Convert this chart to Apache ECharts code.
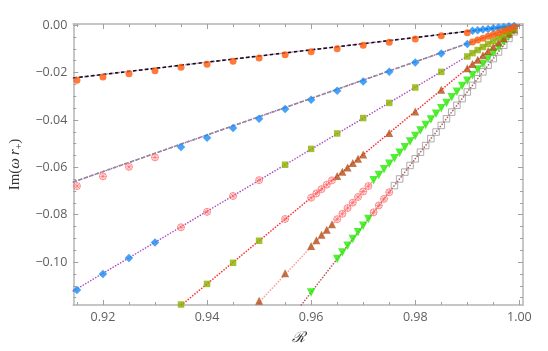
<!DOCTYPE html>
<html>
<head>
<meta charset="utf-8">
<script src="https://cdn.jsdelivr.net/npm/echarts@6/dist/echarts.min.js"></script>
<style>
  html, body { margin: 0; padding: 0; background: #fff; }
  #chart { width: 548px; height: 351px; }
</style>
</head>
<body>
<div id="chart"></div>
<script>
// axis ticks
const xMajor = [0.92, 0.94, 0.96, 0.98, 1.0]
const xMinor = [0.915, 0.925, 0.93, 0.935, 0.945, 0.95, 0.955, 0.965, 0.97, 0.975, 0.985, 0.99, 0.995]
const yMajor = [0, -0.02, -0.04, -0.06, -0.08, -0.1]
const yMinor = [-0.005, -0.01, -0.015, -0.025, -0.03, -0.035, -0.045, -0.05, -0.055,
  -0.065, -0.07, -0.075, -0.085, -0.09, -0.095, -0.105, -0.11, -0.115]

// analytic curves (end points)
const line1R = [0.9143, 1.0], line1Im = [-0.0223, 0]
const line2R = [0.9143, 1.0], line2Im = [-0.0662, 0]
const line3R = [0.9143, 1.0], line3Im = [-0.1122, 0]
const line4R = [0.9351, 1.0], line4Im = [-0.1181, 0]
const line5R = [0.9495, 1.0], line5Im = [-0.1181, 0]
const line6R = [0.9581, 1.0], line6Im = [-0.1181, 0]

// numerical modes
const orangeR = [0.915, 0.92, 0.925, 0.93, 0.935, 0.94, 0.945, 0.95, 0.955, 0.96, 0.965, 0.97, 0.975, 0.98, 0.985, 0.99,
  0.991, 0.992, 0.993, 0.994, 0.995, 0.996, 0.997, 0.998, 0.999]
const orangeIm = [-0.0232, -0.0219, -0.0205, -0.0192, -0.0178, -0.0165, -0.0152, -0.0139, -0.0125, -0.0112, -0.0099, -0.0085, -0.0072, -0.0058, -0.0045, -0.0032,
  -0.0071, -0.0063, -0.0055, -0.0047, -0.0039, -0.0032, -0.0024, -0.0016, -0.0008]

const blueR = [0.915, 0.92, 0.925, 0.93, 0.935, 0.94, 0.945, 0.95, 0.955, 0.96, 0.965, 0.97, 0.975, 0.98, 0.985, 0.99,
  0.991, 0.992, 0.993, 0.994, 0.995, 0.996, 0.997, 0.998, 0.999]
const blueIm = [-0.1118, -0.1050, -0.0983, -0.0917, -0.0514, -0.0475, -0.0434, -0.0395, -0.0354, -0.0315, -0.0277, -0.0238, -0.0197, -0.0158, -0.0120, -0.0079,
  -0.0024, -0.0021, -0.0018, -0.0016, -0.0013, -0.0010, -0.0008, -0.0005, -0.0003]

const redR = [0.915, 0.92, 0.925, 0.93, 0.935, 0.94, 0.945, 0.95, 0.955, 0.96, 0.961, 0.962, 0.963, 0.964,
  0.965, 0.966, 0.967, 0.968, 0.969, 0.97, 0.971, 0.972, 0.973, 0.974, 0.975]
const redIm = [-0.0679, -0.0638, -0.0598, -0.0558, -0.0853, -0.0788, -0.0721, -0.0654, -0.0818, -0.0728, -0.0710, -0.0692, -0.0673, -0.0655,
  -0.0819, -0.0796, -0.0772, -0.0749, -0.0725, -0.0702, -0.0679, -0.0790, -0.0761, -0.0733, -0.0705]

const oliveR = [0.935, 0.94, 0.945, 0.95, 0.955, 0.96, 0.965, 0.97, 0.975, 0.98, 0.985, 0.99,
  0.991, 0.992, 0.993, 0.994, 0.995, 0.996, 0.997, 0.998, 0.999]
const oliveIm = [-0.1179, -0.1092, -0.1003, -0.0910, -0.0589, -0.0522, -0.0457, -0.0392, -0.0328, -0.0263, -0.0197, -0.0132,
  -0.0118, -0.0105, -0.0092, -0.0079, -0.0066, -0.0052, -0.0039, -0.0026, -0.0013]

const brownR = [0.95, 0.955, 0.96, 0.961, 0.962, 0.963, 0.964, 0.965, 0.966, 0.967, 0.968, 0.969, 0.97, 0.975, 0.98, 0.985, 0.99,
  0.991, 0.992, 0.993, 0.994, 0.995, 0.996, 0.997, 0.998, 0.999]
const brownIm = [-0.1163, -0.1047, -0.0932, -0.0908, -0.0885, -0.0863, -0.0840, -0.0637, -0.0619, -0.0601, -0.0582, -0.0564, -0.0546, -0.0455, -0.0364, -0.0273, -0.0182,
  -0.0164, -0.0146, -0.0127, -0.0109, -0.0091, -0.0073, -0.0055, -0.0036, -0.0018]

const greenR = [0.96, 0.965, 0.966, 0.967, 0.968, 0.969, 0.97, 0.971,
  0.972, 0.973, 0.974, 0.975, 0.976, 0.977, 0.978, 0.979, 0.98, 0.981, 0.982, 0.983, 0.984, 0.985,
  0.986, 0.987, 0.988, 0.989, 0.99, 0.991, 0.992, 0.993, 0.994, 0.995, 0.996, 0.997, 0.998, 0.999]
const greenIm = [-0.1128, -0.0987, -0.0959, -0.0931, -0.0902, -0.0874, -0.0846, -0.0818,
  -0.0655, -0.0632, -0.0608, -0.0585, -0.0562, -0.0538, -0.0515, -0.0491, -0.0468, -0.0445, -0.0421, -0.0398, -0.0374, -0.0351,
  -0.0328, -0.0304, -0.0281, -0.0257, -0.0234, -0.0211, -0.0187, -0.0164, -0.0140, -0.0117, -0.0094, -0.0070, -0.0047, -0.0023]

const grayR = [0.976, 0.977, 0.978, 0.979, 0.98, 0.981, 0.982, 0.983, 0.984, 0.985, 0.986, 0.987,
  0.988, 0.989, 0.99, 0.991, 0.992, 0.993, 0.994, 0.995, 0.996, 0.997, 0.998, 0.999]
const grayIm = [-0.0677, -0.0649, -0.0620, -0.0592, -0.0564, -0.0536, -0.0508, -0.0479, -0.0451, -0.0423, -0.0395, -0.0367,
  -0.0338, -0.0310, -0.0282, -0.0254, -0.0226, -0.0197, -0.0169, -0.0141, -0.0113, -0.0085, -0.0056, -0.0028]

const X_MIN = 0.9143, X_MAX = 1.0007
const Y_MIN = -0.1181, Y_MAX = 0.0005

const zip = (xs, ys) => xs.map((x, i) => [x, ys[i]])

const frameColor = '#b4b4b4'
const tickColor = '#a0a0a0'
const labelFont = { color: '#606060', fontSize: 12.5, fontFamily: 'Open Sans' }

const makeX = (position, ticks, len, showLabel, showLine) => ({
  type: 'value', position, min: X_MIN, max: X_MAX, offset: 0,
  axisLine: { show: showLine, onZero: false, lineStyle: { color: frameColor, width: 1.5 } },
  axisTick: { show: true, inside: true, length: len, customValues: ticks, lineStyle: { color: tickColor, width: 1 } },
  axisLabel: showLabel ? { show: true, customValues: ticks, margin: 6, ...labelFont, formatter: v => v.toFixed(2) } : { show: false },
  splitLine: { show: false }
})

const makeY = (position, ticks, len, showLabel, showLine) => ({
  type: 'value', position, min: Y_MIN, max: Y_MAX, offset: 0,
  axisLine: { show: showLine, onZero: false, lineStyle: { color: frameColor, width: 1.5 } },
  axisTick: { show: true, inside: true, length: len, customValues: ticks, lineStyle: { color: tickColor, width: 1 } },
  axisLabel: showLabel ? {
    show: true, customValues: ticks, margin: 6, ...labelFont,
    formatter: v => Math.abs(v) < 1e-9 ? '0.00' : '\u2212' + Math.abs(v).toFixed(2)
  } : { show: false },
  splitLine: { show: false }
})

const xAxes = [
  makeX('bottom', xMajor, 5, true, true),
  makeX('bottom', xMinor, 3, false, false),
  makeX('top', xMajor, 5, false, true),
  makeX('top', xMinor, 3, false, false)
]
xAxes[0].name = '\u211B'
xAxes[0].nameLocation = 'middle'
xAxes[0].nameGap = 26
xAxes[0].nameTextStyle = { fontFamily: 'DejaVu Serif', fontStyle: 'italic', fontSize: 15, color: '#333' }

const yAxes = [
  makeY('left', yMajor, 5, true, true),
  makeY('left', yMinor, 3, false, false),
  makeY('right', yMajor, 5, false, true),
  makeY('right', yMinor, 3, false, false)
]
yAxes[0].name = '{a|Im(}{i|\u03C9\u2009r}{s|+}{a|)}'
yAxes[0].nameLocation = 'middle'
yAxes[0].nameGap = 42
yAxes[0].nameTextStyle = {
  rich: {
    a: { fontFamily: 'Liberation Serif', fontSize: 15, color: '#333' },
    i: { fontFamily: 'Liberation Serif', fontStyle: 'italic', fontSize: 15, color: '#333' },
    s: { fontFamily: 'Liberation Serif', fontSize: 10, color: '#333', padding: [8, 0, 0, 0] }
  }
}

const dotted = (color, w) => ({ color, width: w || 1.6, type: [0.1, 2.8], cap: 'round' })
const dashed = (color) => ({ color, width: 1.6, type: [3.5, 2.5] })

const curve = (xs, ys, style, z) => ({
  type: 'line', data: zip(xs, ys), showSymbol: false, symbol: 'none',
  lineStyle: style, z, silent: true, clip: true
})

const marks = (xs, ys, symbol, size, itemStyle, extra) => Object.assign({
  type: 'scatter', data: zip(xs, ys), symbol, symbolSize: size, itemStyle, z: 10, silent: true, clip: true
}, extra || {})

const circleX = 'path://M10,1A9,9 0 1,1 9.99,1Z M3.6,3.6L16.4,16.4 M16.4,3.6L3.6,16.4 M10,1L10,19 M1,10L19,10'

const option = {
  animation: false,
  backgroundColor: '#fff',
  grid: { left: 62, right: 25, top: 24, bottom: 42 },
  xAxis: xAxes,
  yAxis: yAxes,
  series: [
    curve(line1R, line1Im, dotted('#d77be6'), 2),
    curve(line1R, line1Im, dashed('#111'), 3),
    curve(line2R, line2Im, dotted('#b45bd0'), 2),
    curve(line2R, line2Im, dashed('#8c8c8c'), 3),
    curve(line3R, line3Im, dotted('#a84ac4'), 2),
    curve(line4R, line4Im, dotted('#ff2a2a'), 2),
    curve(line5R, line5Im, dotted('#ff9a9a'), 2),
    curve(line6R, line6Im, dotted('#b35a5a'), 2),
    marks(grayR, grayIm, 'rect', 6.5, { color: 'rgba(0,0,0,0)', borderColor: '#9a9a9a', borderWidth: 1 }),
    marks(greenR, greenIm, 'triangle', 8.5, { color: '#22ee00' }, { symbolRotate: 180 }),
    marks(brownR, brownIm, 'triangle', 8, { color: '#b5501a' }),
    marks(oliveR, oliveIm, 'rect', 6.5, { color: '#8cb000' }),
    marks(redR, redIm, circleX, 7, { color: 'rgba(0,0,0,0)', borderColor: '#ff6a6a', borderWidth: 0.9 }),
    marks(blueR, blueIm, 'diamond', 8.5, { color: '#1a8cf5' }),
    marks(orangeR, orangeIm, 'circle', 7, { color: '#ff5a0a' })
  ]
}

const chart = echarts.init(document.getElementById('chart'))
chart.setOption(option)
</script>
</body>
</html>
